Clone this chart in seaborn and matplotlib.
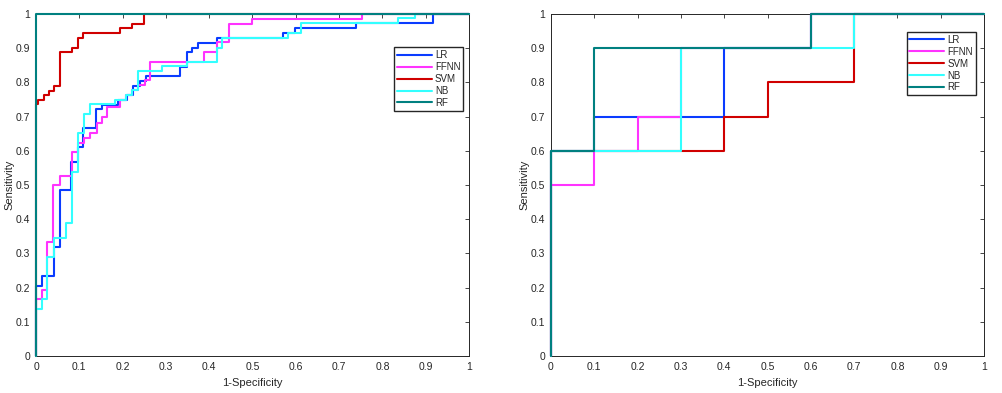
import numpy as np
import pandas as pd
import matplotlib
matplotlib.use("Agg")
import matplotlib.pyplot as plt
import seaborn as sns

models = ["LR", "FFNN", "SVM", "NB", "RF"]
colors = ["#0a3cff", "#ff33ff", "#d00000", "#33ffff", "#008080"]

# left panel, ROC corner points (fpr, tpr), drawn as steps
lr_fpr_a = [0, 0, 0.013, 0.042, 0.055, 0.08, 0.098, 0.109, 0.139, 0.152, 0.19, 0.21, 0.225,
            0.24, 0.255, 0.333, 0.348, 0.361, 0.375, 0.417, 0.57, 0.598, 0.738, 0.918, 1]
lr_tpr_a = [0, 0.205, 0.234, 0.318, 0.485, 0.568, 0.61, 0.666, 0.722, 0.734, 0.75, 0.763, 0.79,
            0.805, 0.82, 0.845, 0.888, 0.90, 0.916, 0.93, 0.945, 0.96, 0.974, 1, 1]
ffnn_fpr_a = [0, 0, 0.013, 0.026, 0.04, 0.055, 0.082, 0.098, 0.111, 0.125, 0.14, 0.152, 0.165,
              0.194, 0.209, 0.221, 0.236, 0.252, 0.263, 0.389, 0.417, 0.446, 0.5, 0.752, 1]
ffnn_tpr_a = [0, 0.166, 0.193, 0.332, 0.5, 0.526, 0.597, 0.622, 0.636, 0.653, 0.68, 0.70, 0.729,
              0.749, 0.763, 0.778, 0.792, 0.807, 0.86, 0.89, 0.917, 0.972, 0.985, 1, 1]
svm_fpr_a = [0, 0, 0.005, 0.018, 0.03, 0.042, 0.055, 0.082, 0.096, 0.109, 0.194, 0.222, 0.25, 1]
svm_tpr_a = [0, 0.736, 0.75, 0.763, 0.776, 0.79, 0.888, 0.90, 0.93, 0.945, 0.958, 0.972, 1, 1]
nb_fpr_a = [0, 0, 0.013, 0.026, 0.042, 0.069, 0.082, 0.098, 0.112, 0.125, 0.182, 0.207, 0.221,
            0.236, 0.29, 0.348, 0.417, 0.43, 0.583, 0.612, 0.837, 0.875, 1]
nb_tpr_a = [0, 0.137, 0.166, 0.29, 0.346, 0.388, 0.539, 0.653, 0.708, 0.736, 0.749, 0.763, 0.778,
            0.833, 0.849, 0.86, 0.90, 0.93, 0.945, 0.975, 0.988, 1, 1]
rf_fpr_a = [0, 0, 1]
rf_tpr_a = [0, 1, 1]

# right panel
lr_fpr_b = [0, 0, 0.1, 0.4, 0.6, 1]
lr_tpr_b = [0, 0.6, 0.7, 0.9, 1, 1]
ffnn_fpr_b = [0, 0, 0.1, 0.2, 0.3, 0.6, 1]
ffnn_tpr_b = [0, 0.5, 0.6, 0.7, 0.9, 1, 1]
svm_fpr_b = [0, 0, 0.4, 0.5, 0.7, 1]
svm_tpr_b = [0, 0.6, 0.7, 0.8, 1, 1]
nb_fpr_b = [0, 0, 0.3, 0.7, 1]
nb_tpr_b = [0, 0.6, 0.9, 1, 1]
rf_fpr_b = [0, 0, 0.1, 0.6, 1]
rf_tpr_b = [0, 0.6, 0.9, 1, 1]

ticks = np.round(np.arange(0, 1.01, 0.1), 1)
tick_labels = ["0", "0.1", "0.2", "0.3", "0.4", "0.5", "0.6", "0.7", "0.8", "0.9", "1"]


def make_frame(curves):
    frames = []
    for name, (fpr, tpr) in zip(models, curves):
        frames.append(pd.DataFrame({"fpr": fpr, "tpr": tpr, "model": name}))
    return pd.concat(frames, ignore_index=True)


def roc_panel(ax, df, legend_anchor):
    sns.lineplot(data=df, x="fpr", y="tpr", hue="model", hue_order=models,
                 palette=colors, estimator=None, sort=False, drawstyle="steps-post",
                 linewidth=1.5, legend=False, ax=ax, zorder=3, clip_on=False)
    ax.set_xlim(0, 1)
    ax.set_ylim(0, 1)
    ax.set_xticks(ticks)
    ax.set_yticks(ticks)
    ax.set_xticklabels(tick_labels)
    ax.set_yticklabels(tick_labels)
    ax.tick_params(direction="in", top=True, right=True, length=3, width=0.6,
                   labelsize=7.5, colors="#262626", pad=4)
    for s in ax.spines.values():
        s.set_color("#262626")
        s.set_linewidth(0.7)
    ax.set_xlabel("1-Specificity", fontsize=8, color="#262626", labelpad=5)
    ax.set_ylabel("Sensitivity", fontsize=8, color="#262626", labelpad=1)
    ax.legend(handles=ax.get_lines()[:5], labels=models, loc="upper right",
              bbox_to_anchor=legend_anchor, fontsize=7, frameon=True, fancybox=False,
              edgecolor="#262626", framealpha=1, handlelength=3.6, handletextpad=0.3,
              borderpad=0.3, labelspacing=0.2, borderaxespad=0)


sns.set_style("white")
plt.rcParams["font.family"] = ["Liberation Sans", "DejaVu Sans"]

fig = plt.figure(figsize=(10.03, 3.93), dpi=100)
ax1 = fig.add_axes([36 / 1003, 37 / 393, 433 / 1003, 342 / 393])
ax2 = fig.add_axes([551 / 1003, 37 / 393, 433 / 1003, 342 / 393])

left = make_frame([(lr_fpr_a, lr_tpr_a), (ffnn_fpr_a, ffnn_tpr_a), (svm_fpr_a, svm_tpr_a),
                   (nb_fpr_a, nb_tpr_a), (rf_fpr_a, rf_tpr_a)])
right = make_frame([(lr_fpr_b, lr_tpr_b), (ffnn_fpr_b, ffnn_tpr_b), (svm_fpr_b, svm_tpr_b),
                    (nb_fpr_b, nb_tpr_b), (rf_fpr_b, rf_tpr_b)])

roc_panel(ax1, left, (0.987, 0.903))
roc_panel(ax2, right, (0.981, 0.948))

fig.savefig("out.png", dpi=100)
